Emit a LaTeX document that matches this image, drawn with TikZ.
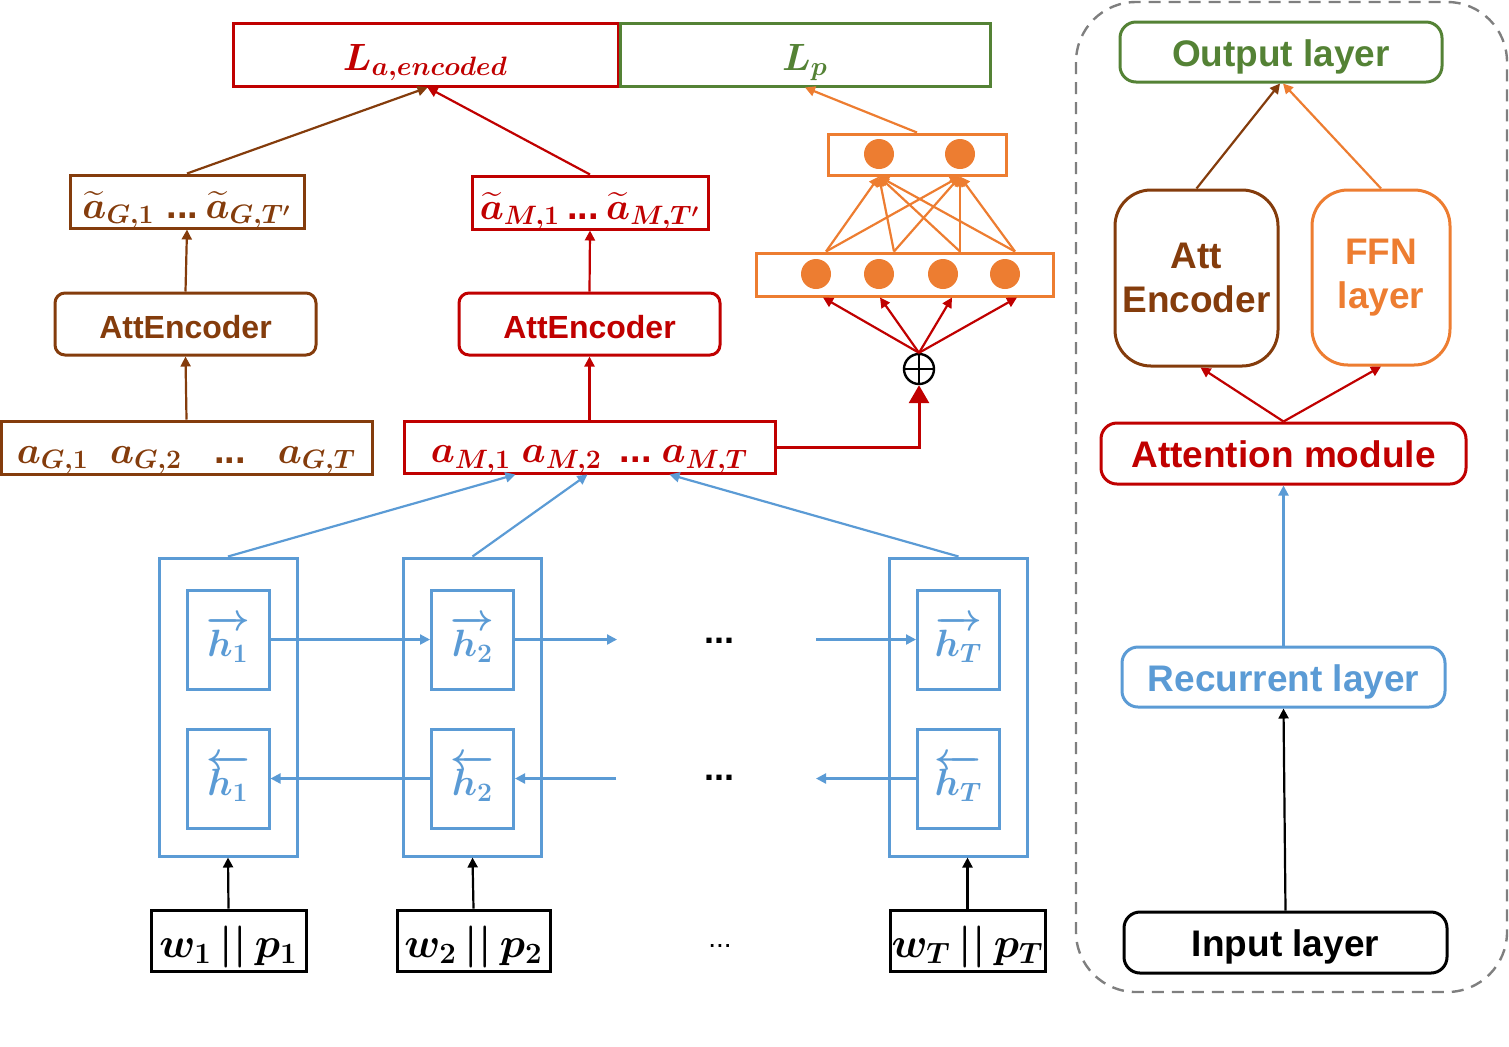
\RequirePackage{fix-cm}
\documentclass[tikz,border=0pt]{standalone}
\usepackage{amsmath}
\usepackage{fontspec}
\setmainfont{Liberation Sans}
\usetikzlibrary{arrows.meta}

\definecolor{cred}{HTML}{C00000}
\definecolor{cbrown}{HTML}{843C0C}
\definecolor{corange}{HTML}{ED7D31}
\definecolor{cgreen}{HTML}{548235}
\definecolor{cblue}{HTML}{5B9BD5}
\definecolor{cgray}{HTML}{7F7F7F}

\newcommand{\bdots}{\textbf{...}}

\begin{document}
\begin{tikzpicture}[x=0.5pt, y=-0.5pt,
    box/.style={draw, line width=1.5pt, inner sep=0pt, align=center},
    mtext/.style={font=\fontsize{19}{22}\selectfont\boldmath, text height=15.5pt, text depth=0pt},
    stext/.style={font=\fontsize{18.5}{22}\selectfont\bfseries},
    sline/.style={text height=14pt, text depth=0pt},
    arr/.style={-{Triangle[length=5pt,width=5pt]}, line width=1.1pt},
    neuron/.style={circle, fill=corange, minimum size=15pt, inner sep=0pt}]
    \useasboundingbox (0,0) rectangle (1509,1046);

    % outputs
    \node[box, mtext, draw=cred, text=cred, minimum width=192.5pt, minimum height=31.5pt] (La) at (425.5,54.5) {$L_{a,encoded}$};
    \node[box, mtext, draw=cgreen, text=cgreen, minimum width=185pt, minimum height=31.5pt] (Lp) at (805,54.5) {$L_p$};

    % encoded attention
    \node[box, mtext, draw=cbrown, text=cbrown, minimum width=117pt, minimum height=26.5pt, text height=16.5pt] (tG) at (187,201.5) {$\widetilde{a}_{G,1}\;\bdots\,\widetilde{a}_{G,T'}$};
    \node[box, mtext, draw=cred, text=cred, minimum width=118pt, minimum height=26.5pt, text height=16.5pt] (tM) at (590,202.5) {$\widetilde{a}_{M,1}\,\bdots\,\widetilde{a}_{M,T'}$};
    \node[box, stext, sline, draw=cbrown, text=cbrown, rounded corners=5pt, minimum width=130.5pt, minimum height=31pt, font=\fontsize{16}{19}\selectfont\bfseries] (encG) at (185.5,324) {AttEncoder};
    \node[box, stext, sline, draw=cred, text=cred, rounded corners=5pt, minimum width=130.5pt, minimum height=31pt, font=\fontsize{16}{19}\selectfont\bfseries] (encM) at (589.5,324) {AttEncoder};
    \node[box, mtext, draw=cbrown, text=cbrown, minimum width=185.5pt, minimum height=26.5pt] (aG) at (186.5,447.5) {$a_{G,1}\ \ a_{G,2}\hspace{16pt}\bdots\hspace{16pt}a_{G,T}$};
    \node[box, mtext, draw=cred, text=cred, minimum width=185.5pt, minimum height=26pt] (aM) at (589.5,447) {$a_{M,1}\ a_{M,2}\hspace{9pt}\bdots\hspace{5pt}a_{M,T}$};

    % feed forward part
    \node[box, draw=corange, minimum width=89pt, minimum height=20.5pt] (hidB) at (917,154.5) {};
    \node[box, draw=corange, minimum width=148.5pt, minimum height=21.5pt] (hidA) at (904.5,274.5) {};
    \node[neuron] (n879) at (879,154) {};
    \node[neuron] (n960) at (960,154) {};
    \node[neuron] (m1) at (816,274) {};
    \node[neuron] (m2) at (879,274) {};
    \node[neuron] (m3) at (943,274) {};
    \node[neuron] (m4) at (1005,274) {};
    \node[circle, draw, line width=1.2pt, minimum size=15pt, inner sep=0pt] (plus) at (919,369) {};
    \draw[line width=1.2pt] (plus.north) -- (plus.south) (plus.west) -- (plus.east);

    % recurrent part
    \foreach \n/\x/\i in {1/228/1, 2/472.5/2, T/958.5/T} {
        \node[box, draw=cblue, minimum width=69pt, minimum height=149pt] (o\n) at (\x,707) {};
        \node[box, mtext, draw=cblue, text=cblue, minimum width=41pt, minimum height=49.5pt, text height=17pt] (f\n) at (\x,639.5) {$\overrightarrow{h_\i}$};
        \node[box, mtext, draw=cblue, text=cblue, minimum width=41pt, minimum height=49.5pt, text height=17pt] (b\n) at (\x,778.5) {$\overleftarrow{h_\i}$};
    }
    \node[font=\fontsize{18}{20}\selectfont\bfseries] (dotF) at (719,641) {...};
    \node[font=\fontsize{18}{20}\selectfont\bfseries] (dotB) at (719,778) {...};
    \coordinate (fwdA) at (617,639.5);
    \coordinate (fwdB) at (816,639.5);
    \coordinate (bwdA) at (616,778.5);
    \coordinate (bwdB) at (816,778.5);

    % inputs
    \node[box, mtext, minimum width=77.5pt, minimum height=30.5pt, font=\fontsize{21}{24}\selectfont\boldmath, text height=16.5pt] (in1) at (228.5,940.5) {$w_1\,||\,p_1$};
    \node[box, mtext, minimum width=76.5pt, minimum height=30.5pt, font=\fontsize{21}{24}\selectfont\boldmath, text height=16.5pt] (in2) at (473.5,940.5) {$w_2\,||\,p_2$};
    \node[box, mtext, minimum width=77.5pt, minimum height=30.5pt, font=\fontsize{21}{24}\selectfont\boldmath, text height=16.5pt] (inT) at (967.5,940.5) {$w_T\,||\,p_T$};
    \node[font=\fontsize{14}{16}\selectfont] (dotI) at (720,946) {...};

    \draw[arr, cbrown] (tG.north) -- ([xshift=1pt]La.south);
    \draw[arr, cred] (tM.north) -- ([xshift=1pt]La.south);
    \draw[arr, corange] (hidB.north) -- (Lp.south);
    \draw[arr, cbrown] (encG.north) -- (tG.south);
    \draw[arr, cred] (encM.north) -- (tM.south);
    \draw[arr, cbrown] (aG.north) -- (encG.south);
    \draw[arr, cred] (aM.north) -- (encM.south);

    \foreach \s in {826,894,960,1015}
        \foreach \t in {n879,n960}
            \draw[arr, corange] (\s,0 |- hidA.north) -- (\t |- hidB.south);
    \foreach \s in {823,880,952,1017}
        \draw[arr, cred] (plus.north) -- (\s,0 |- hidA.south);
    \draw[line width=1.5pt, cred, -{Triangle[length=9pt,width=10pt]}] (aM.east) -| (plus.south);

    \draw[arr, cblue] (o1.north) -- ([xshift=-37pt]aM.south);
    \draw[arr, cblue] (o2.north) -- ([xshift=-1pt]aM.south);
    \draw[arr, cblue] (oT.north) -- ([xshift=40pt]aM.south);
    \draw[arr, cblue] (f1.east) -- (f2.west);
    \draw[arr, cblue] (f2.east) -- (fwdA);
    \draw[arr, cblue] (fwdB) -- (fT.west);
    \draw[arr, cblue] (b2.west) -- (b1.east);
    \draw[arr, cblue] (bwdA) -- (b2.east);
    \draw[arr, cblue] (bT.west) -- (bwdB);

    \draw[arr] (in1.north) -- (o1.south);
    \draw[arr] (in2.north) -- (o2.south);
    \draw[arr] (inT.north) -- (inT.north |- oT.south);

    % overview panel
    \draw[cgray, line width=1.2pt, dash pattern=on 6pt off 4pt, rounded corners=30pt] (1076,2) rectangle (1507,992);
    \node[box, stext, sline, draw=cgreen, text=cgreen, rounded corners=8pt, minimum width=161pt, minimum height=30pt] (out) at (1281,52) {Output layer};
    \node[box, stext, draw=cbrown, text=cbrown, rounded corners=18pt, minimum width=81.5pt, minimum height=88pt] (ae) at (1196.5,278) {Att\\Encoder};
    \node[box, stext, draw=corange, text=corange, rounded corners=18pt, minimum width=69pt, minimum height=87.5pt] (ffn) at (1381,277.5) {FFN\\layer};
    \node[box, stext, sline, draw=cred, text=cred, rounded corners=8pt, minimum width=182.5pt, minimum height=30.5pt] (att) at (1283.5,453.5) {Attention module};
    \node[box, stext, sline, draw=cblue, text=cblue, rounded corners=8pt, minimum width=161.5pt, minimum height=30pt] (rec) at (1283.5,677) {Recurrent layer};
    \node[box, stext, sline, rounded corners=8pt, minimum width=161.5pt, minimum height=30.5pt] (inp) at (1285.5,942.5) {Input layer};

    \draw[arr] (inp.north) -- (rec.south);
    \draw[arr, cblue] (rec.north) -- (att.south);
    \draw[arr, cred] (att.north) -- ([xshift=2pt]ae.south);
    \draw[arr, cred] (att.north) -- (ffn.south);
    \draw[arr, cbrown] (ae.north) -- ([xshift=-0.5pt]out.south);
    \draw[arr, corange] (ffn.north) -- ([xshift=1pt]out.south);
\end{tikzpicture}
\end{document}
